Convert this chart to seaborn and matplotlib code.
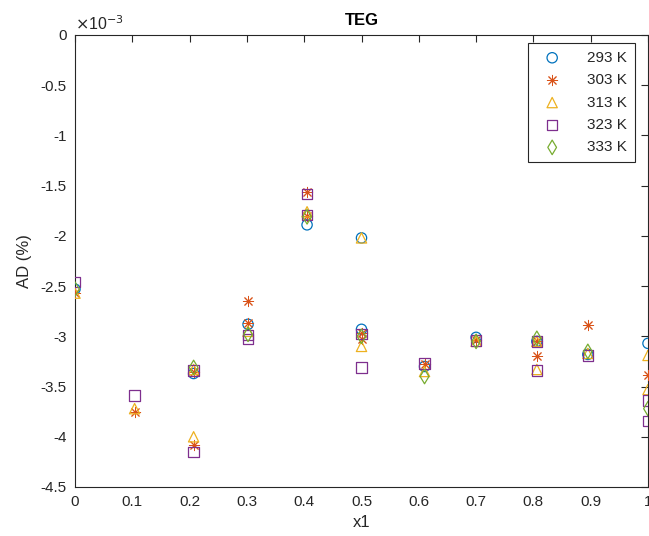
import matplotlib
matplotlib.use("Agg")
import matplotlib.pyplot as plt
import seaborn as sns
import pandas as pd
from matplotlib.ticker import FuncFormatter

# Data (AD values in units of 1e-3 %)
x_293 = [0, 0.207, 0.302, 0.405, 0.5, 0.5, 0.61, 0.7, 0.806, 0.895, 1.0]
ad_293 = [-2.53, -3.37, -2.88, -1.89, -2.02, -2.93, -3.30, -3.01, -3.05, -3.18, -3.07]

x_303 = [0, 0.104, 0.207, 0.207, 0.302, 0.302, 0.405, 0.405, 0.5, 0.5, 0.61, 0.7, 0.806, 0.806, 0.895, 1.0]
ad_303 = [-2.57, -3.75, -3.36, -4.08, -2.65, -2.87, -1.56, -1.80, -2.97, -3.03, -3.28, -3.04, -3.05, -3.20, -2.89, -3.38]

x_313 = [0, 0.104, 0.207, 0.207, 0.302, 0.405, 0.5, 0.5, 0.61, 0.7, 0.806, 0.806, 0.895, 1.0, 1.0]
ad_313 = [-2.57, -3.72, -3.33, -4.00, -2.95, -1.76, -2.02, -3.10, -3.35, -3.05, -3.05, -3.33, -3.17, -3.19, -3.53]

x_323 = [0, 0.104, 0.207, 0.207, 0.302, 0.302, 0.405, 0.405, 0.5, 0.5, 0.61, 0.7, 0.806, 0.806, 0.895, 1.0, 1.0]
ad_323 = [-2.46, -3.59, -3.34, -4.15, -2.99, -3.03, -1.58, -1.79, -2.98, -3.31, -3.27, -3.04, -3.05, -3.34, -3.19, -3.64, -3.84]

x_333 = [0, 0.207, 0.302, 0.405, 0.5, 0.61, 0.7, 0.806, 0.895, 1.0]
ad_333 = [-2.53, -3.31, -2.98, -1.81, -3.00, -3.40, -3.05, -3.02, -3.15, -3.72]

labels = ["293 K", "303 K", "313 K", "323 K", "333 K"]
xs = [x_293, x_303, x_313, x_323, x_333]
ys = [ad_293, ad_303, ad_313, ad_323, ad_333]
colors = ["#0072BD", "#D95319", "#EDB120", "#7E2F8E", "#77AC30"]
markers = ["o", (8, 2, 0), "^", "s", "d"]

x_ticks = [0, 0.1, 0.2, 0.3, 0.4, 0.5, 0.6, 0.7, 0.8, 0.9, 1]
y_ticks = [0, -0.5, -1, -1.5, -2, -2.5, -3, -3.5, -4, -4.5]

sns.set_style("white")
plt.rcParams["font.family"] = ["Liberation Sans", "DejaVu Sans"]
plt.rcParams["axes.unicode_minus"] = False

fig = plt.figure(figsize=(6.49, 5.36), dpi=100)
ax = fig.add_axes([75 / 649, (536 - 487) / 536, 573 / 649, 452 / 536])

axc = "#262626"
for lab, x, y, c, m in zip(labels, xs, ys, colors, markers):
    df = pd.DataFrame({"x1": x, "AD": y})
    if m == (8, 2, 0):
        sns.scatterplot(data=df, x="x1", y="AD", ax=ax, marker=m, color=c,
                        s=55, linewidth=0.7, label=lab, zorder=3)
    else:
        sns.scatterplot(data=df, x="x1", y="AD", ax=ax, marker=m,
                        facecolor="none", edgecolor=c, s=55, linewidth=0.9,
                        label=lab, zorder=3)

ax.set_xlim(0, 1)
ax.set_ylim(-4.5, 0)
ax.set_xticks(x_ticks)
ax.set_yticks(y_ticks)
ax.xaxis.set_major_formatter(FuncFormatter(lambda v, p: f"{v:g}"))
ax.yaxis.set_major_formatter(FuncFormatter(lambda v, p: f"{v:g}"))
ax.tick_params(direction="in", top=True, right=True, length=5, width=0.8,
               colors=axc, labelsize=11, labelcolor=axc, pad=6)
for sp in ax.spines.values():
    sp.set_visible(True)
    sp.set_color(axc)
    sp.set_linewidth(0.8)

ax.set_xlabel("x1", fontsize=12, color=axc, labelpad=4)
ax.set_ylabel("AD (%)", fontsize=12, color=axc, labelpad=6)
ax.set_title("TEG", fontsize=12, fontweight="bold", color="black", pad=7)
ax.text(0.0, 1.005, r"$\times$10$^{-3}$", transform=ax.transAxes,
        fontsize=11.5, color=axc, ha="left", va="bottom")

leg = ax.legend(loc="upper right", bbox_to_anchor=(0.977, 0.982), fontsize=11,
                frameon=True, fancybox=False, edgecolor=axc, framealpha=1,
                borderpad=0.5, labelspacing=0.55, handletextpad=1.2,
                handlelength=2.2, borderaxespad=0)
leg.get_frame().set_linewidth(0.8)

fig.savefig("out.png", dpi=100)
